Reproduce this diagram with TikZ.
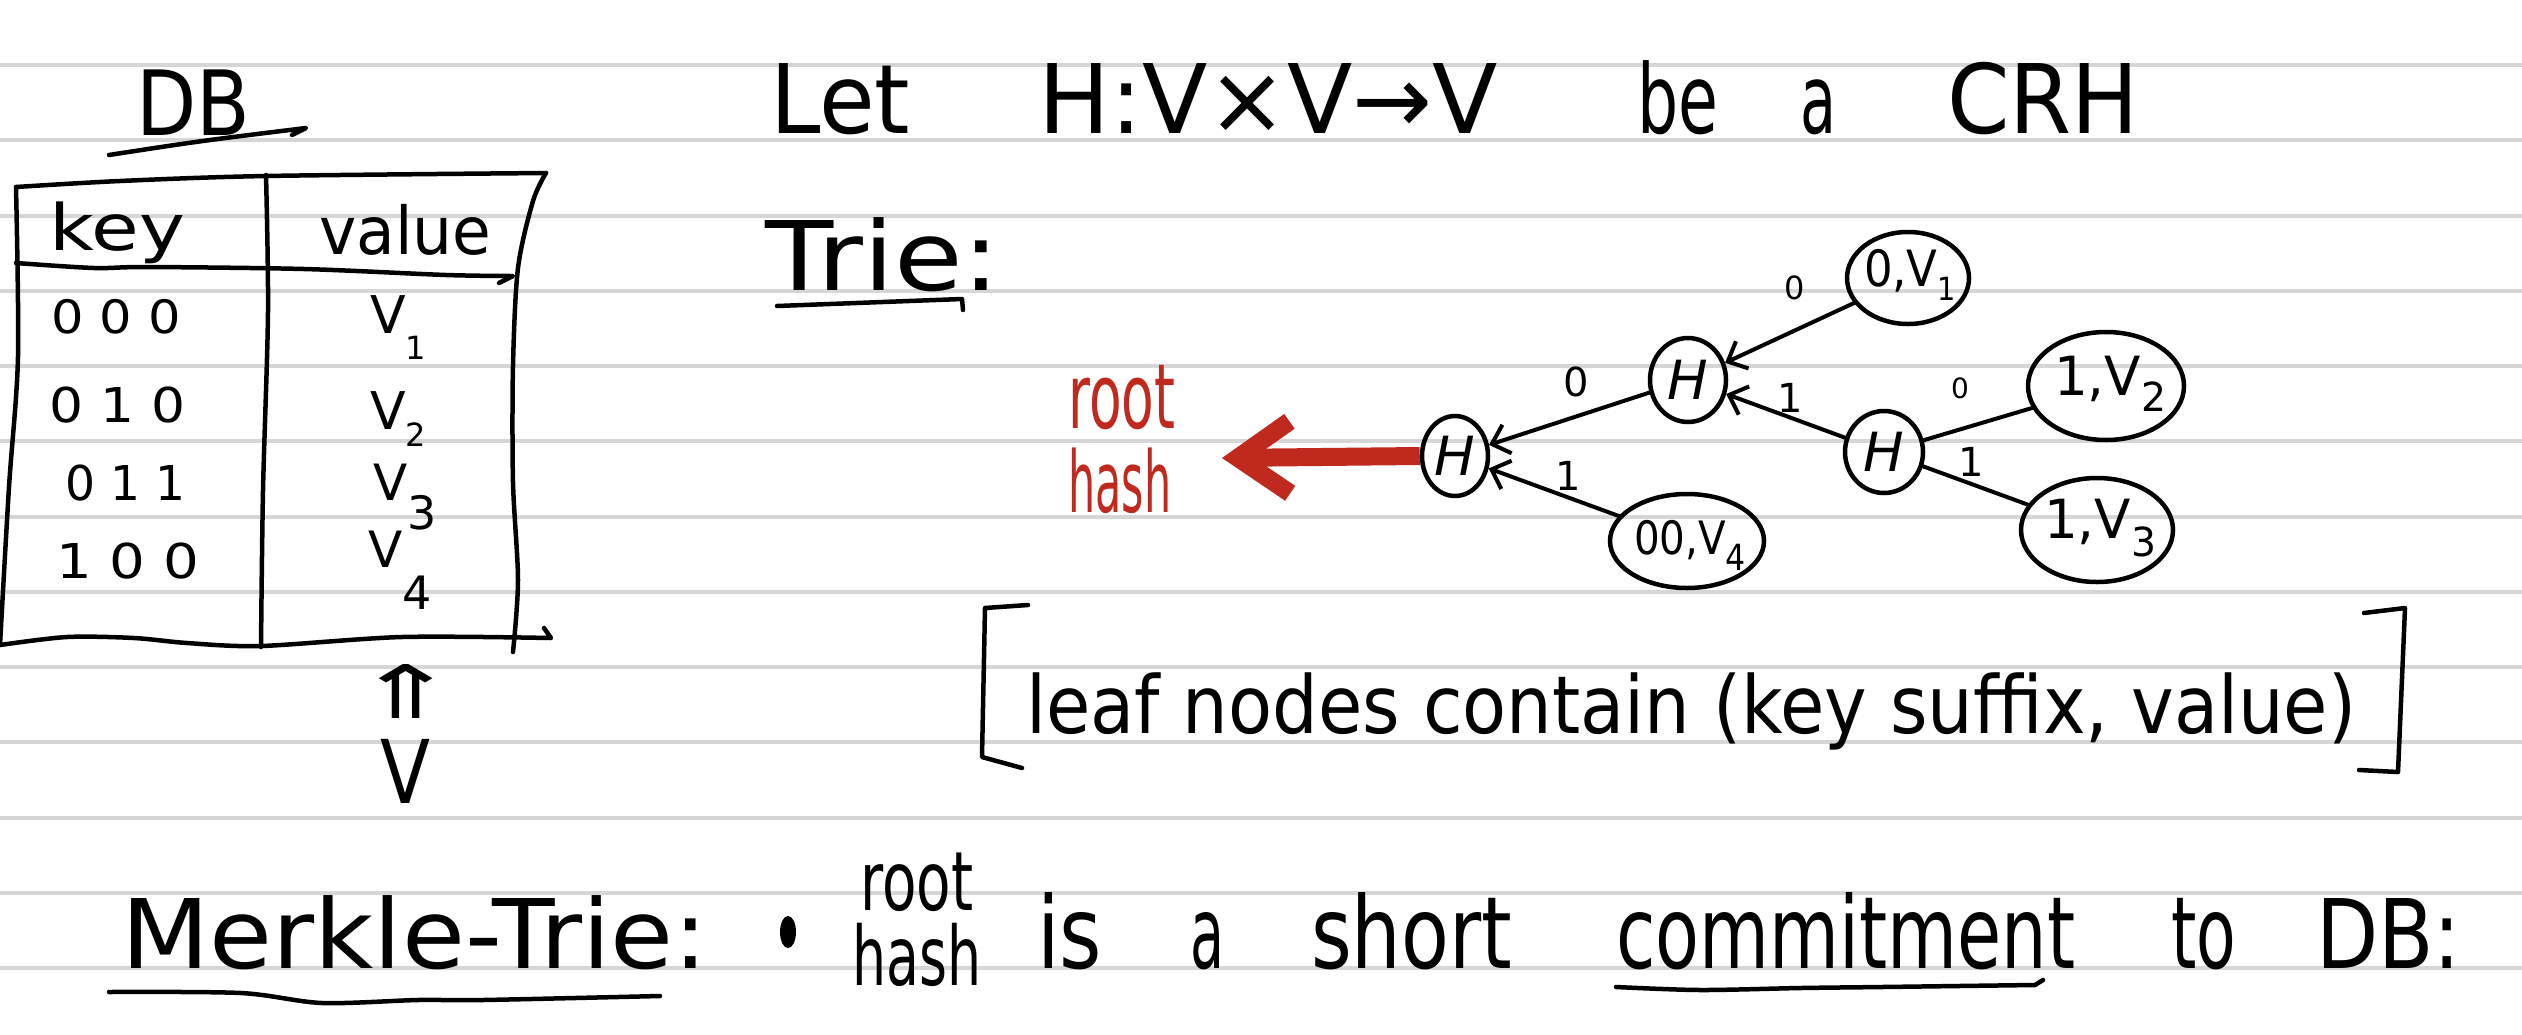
\documentclass[tikz,border=0pt]{standalone}
\usepackage{fontspec}
\setmainfont{DejaVu Sans}
\usepackage{graphicx}
\usetikzlibrary{arrows.meta,shapes.geometric}
\definecolor{ruleg}{RGB}{214,214,214}
\definecolor{hred}{RGB}{192,41,30}
\newcommand{\fitw}[3]{\resizebox{#1}{\height}{\fontsize{#2}{#2}\selectfont #3}}
\newcommand{\vsb}[4]{\fontsize{#1}{#1}\selectfont V\raisebox{-#3pt}{\fontsize{#4}{#4}\selectfont #2}}
\begin{document}
\begin{tikzpicture}[x=1pt,y=-1pt,
  ink/.style={line width=4.5pt, line cap=round, line join=round},
  word/.style={inner sep=0pt, anchor=base west},
  ell/.style={shape=ellipse, draw, line width=4.5pt, inner sep=0pt},
  hnode/.style={ell, font=\fontsize{54}{54}\selectfont\itshape},
  lab/.style={inner sep=0pt, font=\fontsize{40}{40}\selectfont},
  edge/.style={line width=4pt, line cap=round, -{Straight Barb[length=16pt,width=30pt,line width=4pt]}},
  plain/.style={line width=4pt, line cap=round}]
\useasboundingbox (0,0) rectangle (2522,1034);
\fill[white] (0,0) rectangle (2522,1034);
\foreach \k in {0,...,12} \draw[ruleg, line width=4pt] (0,{65+75.25*\k}) -- (2522,{65+75.25*\k});

% ---------- DB table ----------
\node[word] (db) at (136,135) {\fitw{114pt}{90}{DB}};
\draw[ink] (109,155) .. controls (200,141) .. (306,128) -- (292,135);
\draw[ink] plot[smooth] coordinates {(16,187) (120,181) (266,176) (546,173)};
\draw[ink] plot[smooth] coordinates {(16,187) (18,357) (9,487) (0,645)};
\draw[ink] plot[smooth] coordinates {(16,263) (94,268) (147,267) (304,269) (446,275) (513,276)} -- (499,283);
\draw[ink] plot[smooth] coordinates {(266,175) (268,312) (263,491) (261,647)};
\draw[ink] plot[smooth] coordinates {(546,173) (533,201) (518,268) (513,366) (513,482) (518,580) (513,652)};
\draw[ink] plot[smooth] coordinates {(0,645) (67,637) (134,638) (187,643) (261,646) (402,637) (551,638)} -- (544,628);

\node[word] (key) at (49,250) {\fitw{136pt}{64}{key}};
\node[word] (value) at (319,254) {\fitw{172pt}{66}{value}};
\node[word] (k1) at (51,333) {\fitw{130pt}{46}{0 0 0}};
\node[word] (k2) at (49,422) {\fitw{136pt}{48}{0 1 0}};
\node[word] (k3) at (65,500) {\fitw{120pt}{48}{0 1 1}};
\node[word] (k4) at (56,578) {\fitw{143pt}{48}{1 0 0}};
\node[word] (v1) at (370,333) {\vsb{52}{1}{26}{32}};
\node[word] (v2) at (370,429) {\vsb{52}{2}{17}{32}};
\node[word] (v3) at (373,500) {\vsb{50}{3}{29}{46}};
\node[word] (v4) at (368,567) {\vsb{50}{4}{42}{46}};
\node[inner sep=0pt] (up) at (406,691) {\resizebox{105pt}{54pt}{⇑}};
\node[word] (vset) at (380,803) {\fitw{50pt}{88}{V}};

% ---------- header line ----------
\node[word] (let) at (770,133) {\fitw{140pt}{96}{Let}};
\node[word] (hmap) at (1038,133) {\fitw{460pt}{96}{H:V×V→V}};
\node[word] (be) at (1637,133) {\fitw{81pt}{96}{be}};
\node[word] (a1) at (1800,133) {\fitw{36pt}{96}{a}};
\node[word] (crh) at (1947,133) {\fitw{192pt}{96}{CRH}};

\node[word] (trie) at (765,290) {\fitw{235pt}{96}{Trie:}};
\draw[ink] (777,306) .. controls (870,302) .. (962,299) -- (963,310);

% ---------- trie ----------
\node[hnode, minimum width=66pt, minimum height=80pt] (rootH) at (1455,456) {H};
\node[hnode, minimum width=76pt, minimum height=84pt] (midH) at (1688,380) {H};
\node[hnode, minimum width=78pt, minimum height=82pt] (rightH) at (1884,452) {H};
\node[ell, minimum width=122pt, minimum height=92pt] (L1) at (1908,278) {};
\node[ell, minimum width=156pt, minimum height=108pt] (L2) at (2106,386) {};
\node[ell, minimum width=152pt, minimum height=104pt] (L3) at (2097,530) {};
\node[ell, minimum width=154pt, minimum height=94pt] (L4) at (1687,541) {};
\node[inner sep=0pt] (t1) at (1910,275) {\resizebox{92pt}{\height}{\fontsize{50}{50}\selectfont 0,V\raisebox{-14pt}{\fontsize{32}{32}\selectfont 1}}};
\node[inner sep=0pt] (t2) at (2110,384) {\resizebox{112pt}{\height}{\fontsize{54}{54}\selectfont 1,V\raisebox{-16pt}{\fontsize{40}{40}\selectfont 2}}};
\node[inner sep=0pt] (t3) at (2100,528) {\resizebox{112pt}{\height}{\fontsize{54}{54}\selectfont 1,V\raisebox{-18pt}{\fontsize{40}{40}\selectfont 3}}};
\node[inner sep=0pt] (t4) at (1690,545) {\resizebox{112pt}{\height}{\fontsize{46}{46}\selectfont 00,V\raisebox{-16pt}{\fontsize{36}{36}\selectfont 4}}};

\draw[edge] (L1) -- (midH);
\draw[edge] (midH) -- (rootH);
\draw[edge] (rightH) -- (midH);
\draw[plain] (L2) -- (rightH);
\draw[plain] (L3) -- (rightH);
\draw[edge] (L4) -- (rootH);

\node[lab, font=\fontsize{32}{32}\selectfont] (e1) at (1795,288) {0};
\node[lab] (e2) at (1576,382) {0};
\node[lab] (e3) at (1790,398) {1};
\node[lab, font=\fontsize{28}{28}\selectfont] (e4) at (1960,388) {0};
\node[lab] (e5) at (1971,462) {1};
\node[lab] (e6) at (1568,476) {1};

\coordinate (rtip) at (1222,458);
\draw[hred, line width=18pt, -{Straight Barb[length=52pt,width=72pt,line width=18pt]}] (rootH.west) -- (rtip);
\node[word, text=hred] (rh1) at (1068,428) {\fitw{107pt}{90}{root}};
\node[word, text=hred] (rh2) at (1068,512) {\fitw{103pt}{85}{hash}};

% ---------- bracket note ----------
\draw[ink] (1028,605) -- (985,608) -- (982,757) -- (1022,768);
\draw[ink] (2364,613) -- (2405,608) -- (2398,772) -- (2359,770);
\node[word] (note) at (1026,733) {\fitw{1330pt}{80}{leaf nodes contain (key suffix, value)}};

% ---------- bottom line ----------
\node[word] (merkle) at (121,968) {\fitw{587pt}{96}{Merkle-Trie:}};
\draw[ink] plot[smooth] coordinates {(109,992) (241,993) (322,1003) (418,1000) (483,1000) (660,996)};
\node[fill, shape=ellipse, minimum width=16pt, minimum height=32pt, inner sep=0pt] (bullet) at (788,932) {};
\node[word] (r2) at (860,910) {\fitw{113pt}{82}{root}};
\node[word] (h2) at (852,985) {\fitw{129pt}{82}{hash}};
\node[word] (is) at (1037,968) {\fitw{65pt}{100}{is}};
\node[word] (a2) at (1190,968) {\fitw{34pt}{100}{a}};
\node[word] (short) at (1311,968) {\fitw{201pt}{100}{short}};
\node[word] (commit) at (1616,968) {\fitw{459pt}{100}{commitment}};
\draw[ink] plot[smooth] coordinates {(1616,987) (1700,990) (1801,988) (1882,987) (2035,985)} -- (2043,980);
\node[word] (to) at (2171,968) {\fitw{65pt}{100}{to}};
\node[word] (dbc) at (2316,968) {\fitw{145pt}{96}{DB:}};
\end{tikzpicture}
\end{document}
